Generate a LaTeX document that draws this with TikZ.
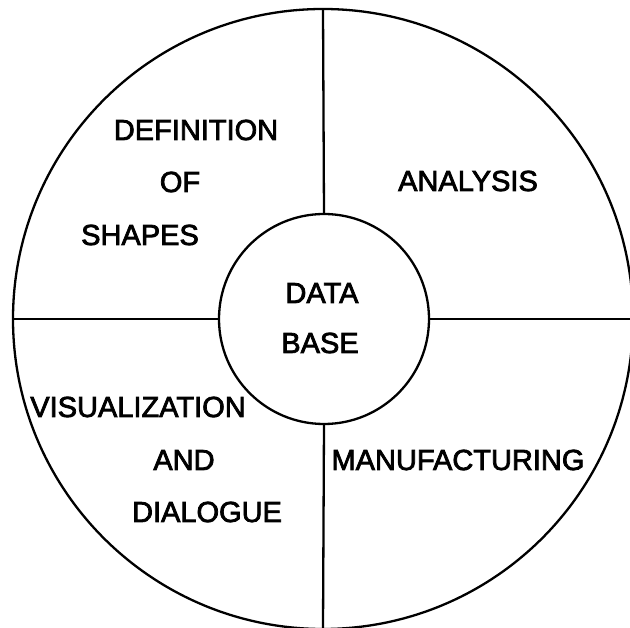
\documentclass[tikz,border=0pt]{standalone}
\usepackage{fontspec}
\setmainfont{Liberation Sans}
\newfontfamily\heavyfont[FakeBold=2.6]{Liberation Sans}
\begin{document}
\begin{tikzpicture}[x=1pt,y=-1pt,
  ring/.style={draw, circle, line width=2.3pt, inner sep=0pt, outer sep=0pt},
  sep/.style={line width=2.3pt},
  lbl/.style={inner sep=0pt, font=\heavyfont\fontsize{29}{29}\selectfont, anchor=center}]
\useasboundingbox (0,0) rectangle (630,628);
\node[ring, minimum size=620pt] (outer) at (323,319) {};
\node[ring, minimum size=210pt] (db) at (324,319) {};
\draw[sep] (outer.north) -- (db.north);
\draw[sep] (db.south) -- (outer.south);
\draw[sep] (outer.west) -- (db.west);
\draw[sep] (db.east) -- (outer.east);
\node[lbl] (t1) at (196,130) {DEFINITION};
\node[lbl] (t2) at (180,182) {OF};
\node[lbl] (t3) at (140,235) {SHAPES};
\node[lbl] (t4) at (468,181) {ANALYSIS};
\node[lbl] (t5) at (322,293) {DATA};
\node[lbl] (t6) at (320,343) {BASE};
\node[lbl] (t7) at (138,407) {VISUALIZATION};
\node[lbl] (t8) at (184,460) {AND};
\node[lbl] (t9) at (207,512) {DIALOGUE};
\node[lbl] (t10) at (458,460) {MANUFACTURING};
\end{tikzpicture}
\end{document}
